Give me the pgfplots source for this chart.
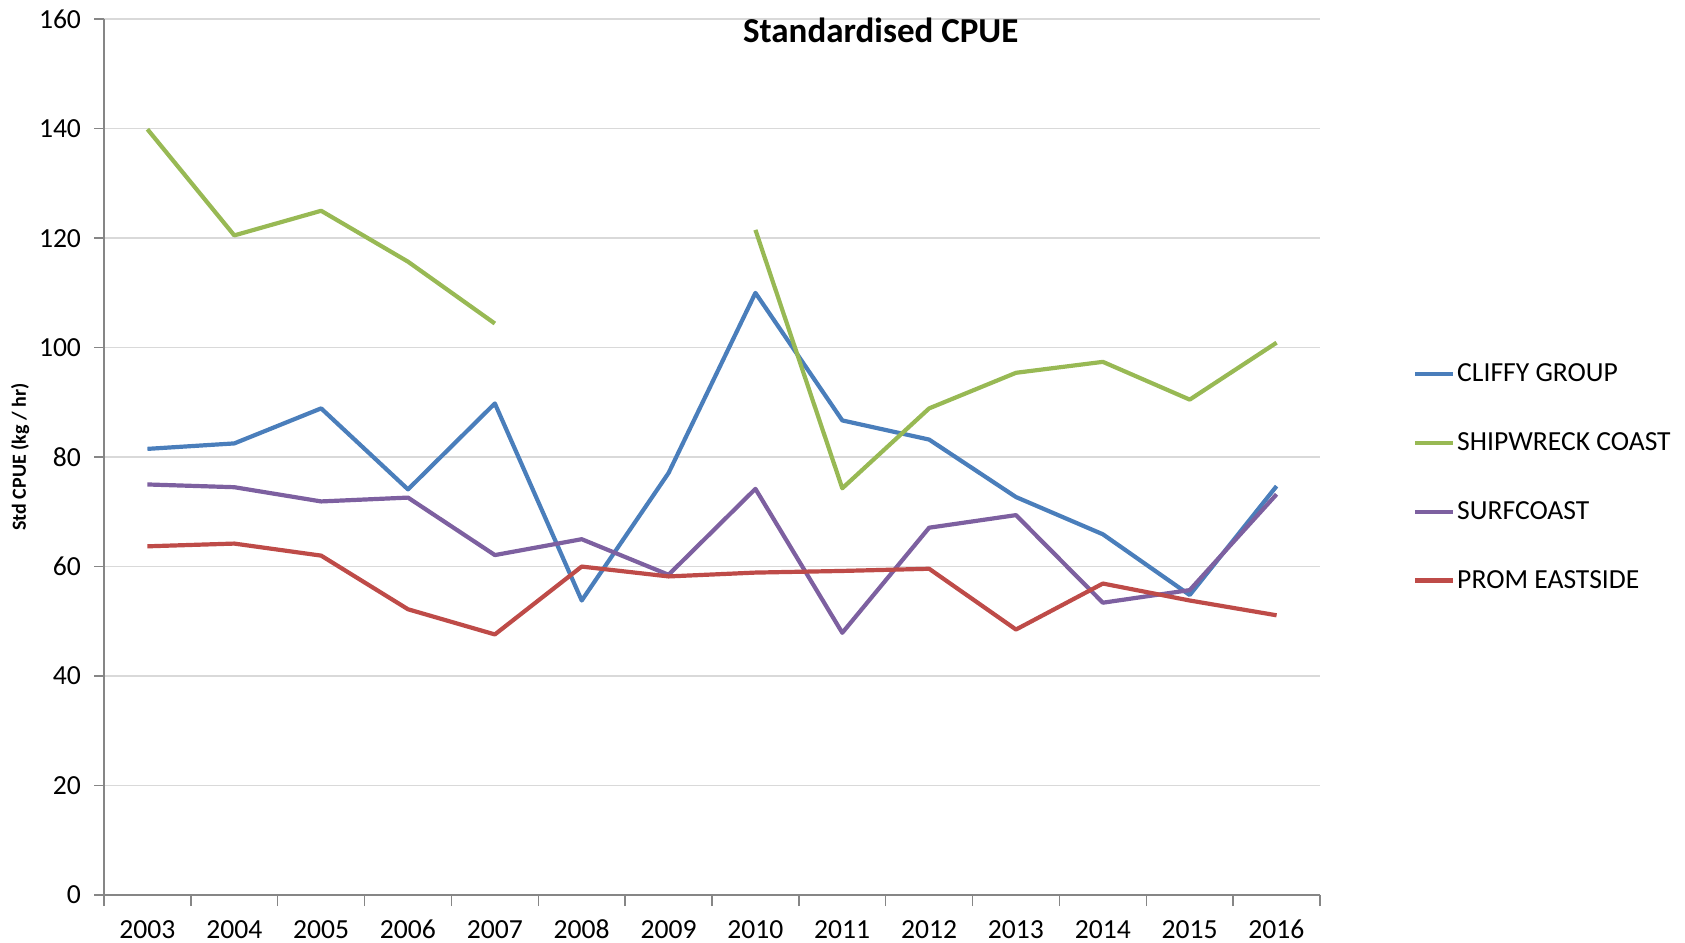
\documentclass[border=0pt]{standalone}
\usepackage{pgfplots}
\pgfplotsset{compat=1.18}
\usepackage{pgfplotstable}
\usepackage{fontspec}
\setmainfont{Carlito}
\definecolor{cblue}{HTML}{4A7EBB}
\definecolor{cgreen}{HTML}{98B954}
\definecolor{cpurple}{HTML}{7D60A0}
\definecolor{cred}{HTML}{BE4B48}
\definecolor{gridgray}{HTML}{D9D9D9}
\definecolor{axisgray}{HTML}{868686}
\pgfplotstableread{
year cliffy ship surf prom
2003 81.5 139.9 75.0 63.7
2004 82.5 120.5 74.5 64.2
2005 88.9 125.0 71.9 62.0
2006 74.1 115.7 72.6 52.2
2007 89.8 104.4 62.1 47.6
2008 53.8 nan 65.0 60.0
2009 77.1 nan 58.5 58.2
2010 110.0 121.5 74.2 58.9
2011 86.7 74.3 47.9 59.2
2012 83.2 88.9 67.1 59.6
2013 72.7 95.4 69.4 48.5
2014 65.9 97.4 53.4 56.9
2015 54.8 90.5 55.7 53.8
2016 74.7 100.9 73.2 51.1
}\datatable
\begin{document}
\begin{tikzpicture}
\begin{axis}[
  name=ax,
  scale only axis,
  width=608bp, height=437.9bp,
  xmin=2002.5, xmax=2016.5,
  ymin=0, ymax=160,
  xtick={2003,...,2016},
  minor xtick={2002.5,2003.5,...,2016.5},
  ytick={0,20,...,160},
  axis lines=left,
  axis line style={-, draw=axisgray, line width=0.7bp},
  tick align=outside,
  major tick length=5bp,
  minor tick length=5.5bp,
  major x tick style={draw=none},
  minor x tick style={draw=axisgray, line width=0.7bp},
  ytick style={draw=axisgray, line width=0.7bp},
  ymajorgrids,
  major grid style={draw=gridgray, line width=0.7bp},
  unbounded coords=jump,
  /pgf/number format/assume math mode=true,
  /pgf/number format/1000 sep={},
  tick label style={font=\fontsize{13.8bp}{16bp}\selectfont, text=black},
  xticklabel style={anchor=base, inner sep=0pt, text depth=0pt, yshift=-16.8bp},
  yticklabel style={xshift=-3bp},
  ylabel={Std CPUE (kg / hr)},
  ylabel style={at={(axis description cs:-0.069,0.5)}, anchor=center, font=\bfseries\fontsize{10bp}{12bp}\selectfont},
  title={Standardised CPUE},
  title style={at={(axis description cs:0.6387,0.9866)}, anchor=center, yshift=-5.5bp, font=\bfseries\fontsize{17.5bp}{20bp}\selectfont},
  legend style={draw=none, fill=none, inner sep=0pt, outer sep=0pt,
    at={(axis description cs:1.0765,0.477)}, anchor=west,
    font=\fontsize{13.8bp}{16bp}\selectfont,
    row sep=22bp,
    nodes={inner sep=1bp}},
  legend cell align=left,
  legend image code/.code={\draw[#1, line width=2.1bp] (0bp,0bp) -- (19bp,0bp);},
  every axis plot/.append style={line width=2.1bp, line join=round},
]
\addplot[cblue, mark=none] table[x=year, y=cliffy] {\datatable};
\addlegendentry{CLIFFY GROUP}
\addplot[cgreen, mark=none] table[x=year, y=ship] {\datatable};
\addlegendentry{SHIPWRECK COAST}
\addplot[cpurple, mark=none] table[x=year, y=surf] {\datatable};
\addlegendentry{SURFCOAST}
\addplot[cred, mark=none] table[x=year, y=prom] {\datatable};
\addlegendentry{PROM EASTSIDE}
\end{axis}
\path (ax.south west) ++(-52bp,-24bp) rectangle ++(842.5bp,471.5bp);
\end{tikzpicture}
\end{document}
